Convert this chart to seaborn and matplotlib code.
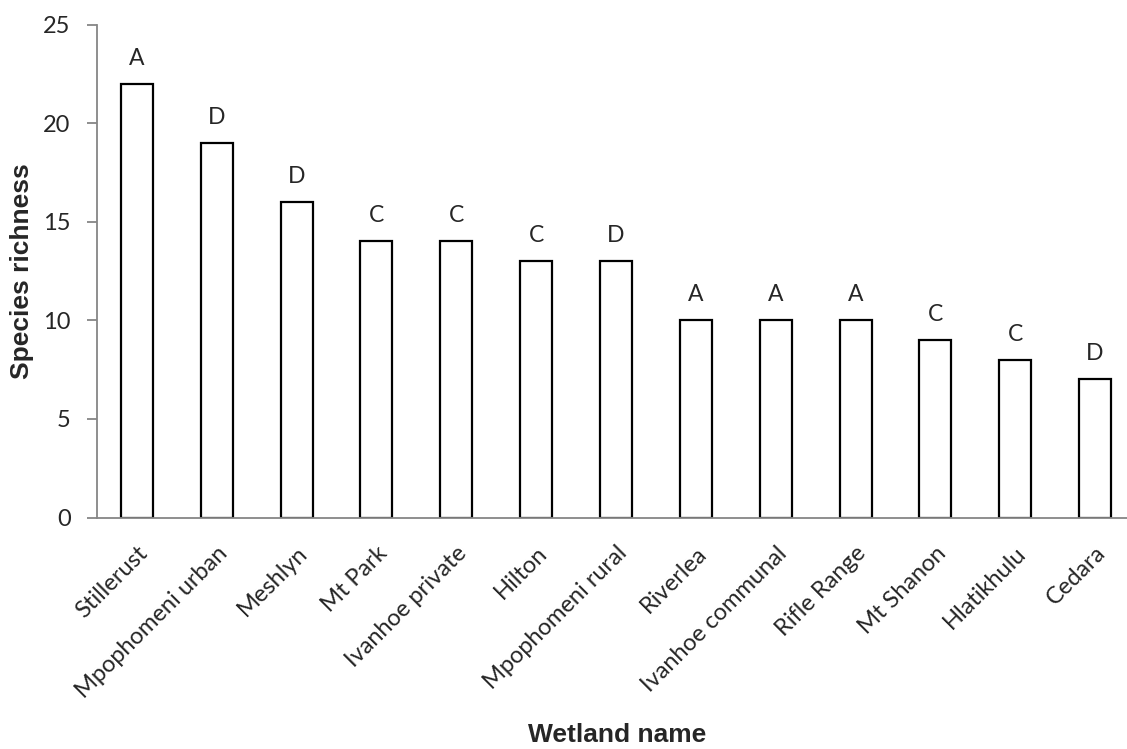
import matplotlib
matplotlib.use("Agg")
import matplotlib.pyplot as plt
import seaborn as sns
import pandas as pd

wetlands = ["Stillerust", "Mpophomeni urban", "Meshlyn", "Mt Park", "Ivanhoe private",
            "Hilton", "Mpophomeni rural", "Riverlea", "Ivanhoe communal", "Rifle Range",
            "Mt Shanon", "Hlatikhulu", "Cedara"]
richness = [22, 19, 16, 14, 14, 13, 13, 10, 10, 10, 9, 8, 7]
groups = ["A", "D", "D", "C", "C", "C", "D", "A", "A", "A", "C", "C", "D"]

df = pd.DataFrame({"wetland": wetlands, "richness": richness})

sns.set_style("white")
fig = plt.figure(figsize=(11.27, 7.49), dpi=100)
# axes runs slightly past right edge, like the original
ax = fig.add_axes([97 / 1127, 1 - 517.5 / 749, 1038 / 1127, 493 / 749])

sns.barplot(data=df, x="wetland", y="richness", color="white", edgecolor="black",
            linewidth=1.6, width=0.4, ax=ax)

for i, (v, g) in enumerate(zip(richness, groups)):
    ax.text(i, v + 1.3, g, ha="center", va="center", fontsize=16.5, family="Lato")

ax.set_xlim(-0.5, len(wetlands) - 0.5)
ax.set_ylim(0, 25)
ax.set_yticks([0, 5, 10, 15, 20, 25])
ax.set_xticks(range(len(wetlands)))
ax.set_xticklabels(wetlands, rotation=45, ha="right", rotation_mode="anchor",
                   fontsize=17, family="Lato")
ax.set_xticks([i - 0.5 for i in range(len(wetlands) + 1)], minor=True)
for lab in ax.get_yticklabels():
    lab.set_fontsize(17)
    lab.set_family("Lato")

ax.tick_params(axis="x", which="major", length=0, pad=18)
ax.tick_params(axis="x", which="minor", length=7, width=1.3, color="#868686", direction="out")
ax.tick_params(axis="y", length=7, width=1.3, color="#868686", direction="out", left=True, pad=12)

for s in ["top", "right"]:
    ax.spines[s].set_visible(False)
for s in ["left", "bottom"]:
    ax.spines[s].set_color("#868686")
    ax.spines[s].set_linewidth(1.3)

ax.set_xlabel("Wetland name", fontsize=19, fontweight="bold", family="Liberation Sans",
              va="center")
ax.set_ylabel("Species richness", fontsize=19, fontweight="bold", family="Liberation Sans",
              va="center")
ax.xaxis.set_label_coords((617 - 97) / 1038, -(735 - 517.5) / 493)
ax.yaxis.set_label_coords(-(97 - 22) / 1038, (517.5 - 271) / 493)

fig.savefig("out.png", dpi=100)
